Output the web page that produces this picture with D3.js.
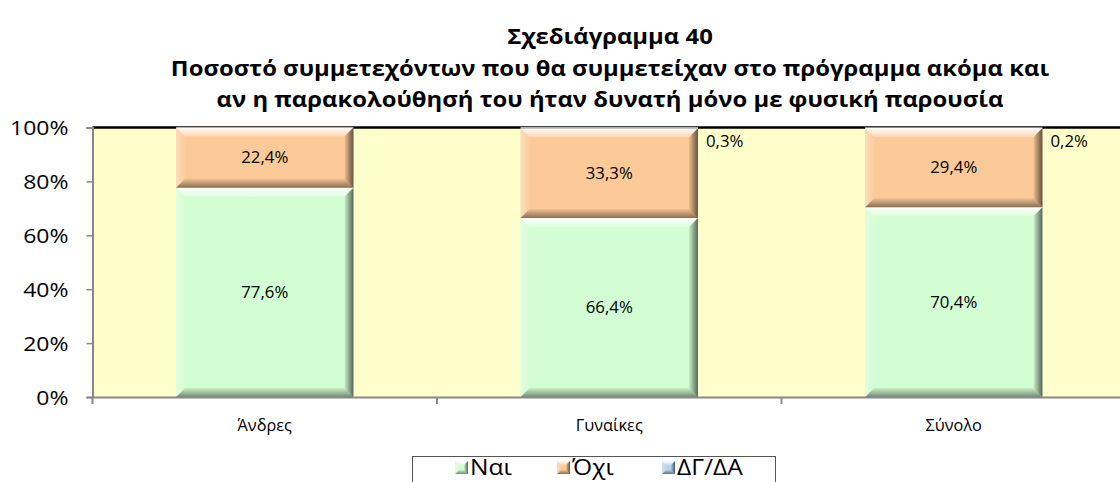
<!DOCTYPE html>
<html>
<head>
<meta charset="utf-8">
<script src="https://cdn.jsdelivr.net/npm/d3@7"></script>
<style>
  html, body { margin: 0; padding: 0; background: #ffffff; }
  svg { display: block; }
  text { font-family: "Open Sans", "DejaVu Sans", sans-serif; fill: #000; }
</style>
</head>
<body>
<svg id="chart" width="1120" height="482"></svg>
<script>
// Categories and series values (percent)
const categories = ["Άνδρες", "Γυναίκες", "Σύνολο"];
const seriesNames = ["Ναι", "Όχι", "ΔΓ/ΔΑ"];
const yesValues = [77.6, 66.4, 70.4];
const noValues = [22.4, 33.3, 29.4];
const dkValues = [0.0, 0.3, 0.2];
const yTickValues = [0, 20, 40, 60, 80, 100];
const titleLines = [
  "Σχεδιάγραμμα 40",
  "Ποσοστό συμμετεχόντων που θα συμμετείχαν στο πρόγραμμα ακόμα και",
  "αν η παρακολούθησή του ήταν δυνατή μόνο με φυσική παρουσία"
];

const seriesColors = ["#d3fdd3", "#fbca98", "#b9d3ea"];

const svg = d3.select("#chart");
const plot = { left: 92.5, top: 127.5, bottom: 397 };
const step = 344.5;

const x = d3.scaleBand()
  .domain(categories)
  .range([plot.left, plot.left + step * categories.length])
  .paddingInner(0).paddingOuter(0);
const y = d3.scaleLinear().domain([0, 100]).range([plot.bottom, plot.top]);
const barW = x.bandwidth() * 0.515;

// Text helper: the chart's lettering is slightly wide, so glyphs get a horizontal stretch
function wideText(g, tx, ty, str, size, sx, anchor, weight) {
  return g.append("text")
    .attr("transform", `translate(${tx},${ty}) scale(${sx},1)`)
    .attr("text-anchor", anchor || "start")
    .style("font-size", size + "px")
    .style("font-weight", weight || "normal")
    .text(str);
}

// Gradients for the bevelled edges of each bar segment
const defs = svg.append("defs");
function grad(id, x1, y1, x2, y2, stops) {
  const g = defs.append("linearGradient").attr("id", id)
    .attr("x1", x1).attr("y1", y1).attr("x2", x2).attr("y2", y2);
  stops.forEach(s => g.append("stop").attr("offset", s[0]).attr("stop-color", s[1]).attr("stop-opacity", s[2]));
}
grad("bevTop", 0, 0, 0, 1, [[0, "#ffffff", 0.95], [1, "#ffffff", 0.25]]);
grad("bevBottom", 0, 1, 0, 0, [[0, "#000000", 0.45], [1, "#000000", 0.05]]);
grad("bevRight", 1, 0, 0, 0, [[0, "#000000", 0.6], [1, "#000000", 0.05]]);
grad("bevLeft", 0, 0, 1, 0, [[0, "#ffffff", 0.35], [1, "#ffffff", 0.05]]);

// Plot background
svg.append("rect")
  .attr("x", plot.left).attr("y", plot.top)
  .attr("width", 1120 - plot.left).attr("height", plot.bottom - plot.top)
  .attr("fill", "#ffffcc");
svg.append("line")
  .attr("x1", plot.left).attr("x2", 1120)
  .attr("y1", plot.top).attr("y2", plot.top)
  .attr("stroke", "#000").attr("stroke-width", 2.5);

// Stack the series
const rows = categories.map((c, i) => ({ cat: c, yes: yesValues[i], no: noValues[i], dk: dkValues[i] }));
const stacked = d3.stack().keys(["yes", "no", "dk"])(rows);

function bevelRect(g, x0, y0, w, h, fill, b) {
  b = Math.min(b, w / 2, h / 2);
  if (h <= 0) return;
  g.append("rect").attr("x", x0).attr("y", y0).attr("width", w).attr("height", h).attr("fill", fill);
  const pts = (arr) => arr.map(p => p.join(",")).join(" ");
  g.append("polygon").attr("points", pts([[x0, y0], [x0 + w, y0], [x0 + w - b, y0 + b], [x0 + b, y0 + b]])).attr("fill", "url(#bevTop)");
  g.append("polygon").attr("points", pts([[x0, y0 + h], [x0 + w, y0 + h], [x0 + w - b, y0 + h - b], [x0 + b, y0 + h - b]])).attr("fill", "url(#bevBottom)");
  g.append("polygon").attr("points", pts([[x0 + w, y0], [x0 + w, y0 + h], [x0 + w - b, y0 + h - b], [x0 + w - b, y0 + b]])).attr("fill", "url(#bevRight)");
  g.append("polygon").attr("points", pts([[x0, y0], [x0, y0 + h], [x0 + b, y0 + h - b], [x0 + b, y0 + b]])).attr("fill", "url(#bevLeft)");
}

const barsG = svg.append("g");
stacked.forEach((layer, si) => {
  layer.forEach(d => {
    const cx = x(d.data.cat) + (x.bandwidth() - barW) / 2;
    const top = y(d[1]), bot = y(d[0]);
    bevelRect(barsG, cx, top, barW, bot - top, seriesColors[si], 9);
  });
});

// Value labels
const fmt = v => v.toFixed(1).replace(".", ",") + "%";
const labG = svg.append("g");
stacked.forEach((layer, si) => {
  layer.forEach(d => {
    const v = d[1] - d[0];
    if (v <= 0) return;
    const bx = x(d.data.cat) + (x.bandwidth() - barW) / 2;
    if (si < 2) {
      wideText(labG, bx + barW / 2, (y(d[0]) + y(d[1])) / 2 + 5.5, fmt(v), 16, 1.05, "middle");
    } else {
      wideText(labG, bx + barW + 8, y(d[1]) + 19, fmt(v), 16, 1.05, "start");
    }
  });
});

// Y axis
const yAxis = d3.axisLeft(y).tickValues(yTickValues).tickSize(6).tickPadding(18).tickFormat(d => d + "%");
const yg = svg.append("g").attr("transform", `translate(${plot.left},0)`).call(yAxis);
yg.select(".domain").attr("stroke", "#888").attr("stroke-width", 2);
yg.selectAll(".tick line").attr("stroke", "#888").attr("stroke-width", 1.5);
yg.selectAll(".tick text")
  .style("font-size", "20px").attr("fill", "#000")
  .attr("dy", "0.36em")
  .attr("transform", "translate(-24,0) scale(1.15,1) translate(24,0)");

// X axis: baseline, category-boundary ticks and labels
const xg = svg.append("g");
xg.append("line").attr("x1", plot.left).attr("x2", 1120)
  .attr("y1", plot.bottom + 0.5).attr("y2", plot.bottom + 0.5)
  .attr("stroke", "#888").attr("stroke-width", 2);
const bounds = categories.map(c => x(c)).concat([x.range()[1]]);
xg.selectAll("line.tk").data(bounds).join("line").attr("class", "tk")
  .attr("x1", d => d).attr("x2", d => d)
  .attr("y1", plot.bottom).attr("y2", plot.bottom + 7)
  .attr("stroke", "#888").attr("stroke-width", 2);
categories.forEach(c => wideText(xg, x(c) + x.bandwidth() / 2, 431, c, 16, 1.02, "middle"));

// Title
const tg = svg.append("g");
titleLines.forEach((t, i) => wideText(tg, 610, 44 + i * 31.5, t, 21, 1.136, "middle", "bold"));

// Legend
const lg = svg.append("g");
lg.append("rect").attr("x", 412.5).attr("y", 456.5).attr("width", 363).attr("height", 40)
  .attr("fill", "#fff").attr("stroke", "#555").attr("stroke-width", 1);
const legendX = [455, 557, 662];
seriesNames.forEach((n, i) => {
  const g = lg.append("g");
  bevelRect(g, legendX[i], 461, 13, 13, seriesColors[i], 4);
  wideText(g, legendX[i] + 15, 475, n, 21, 1.17, "start");
});
</script>
</body>
</html>
